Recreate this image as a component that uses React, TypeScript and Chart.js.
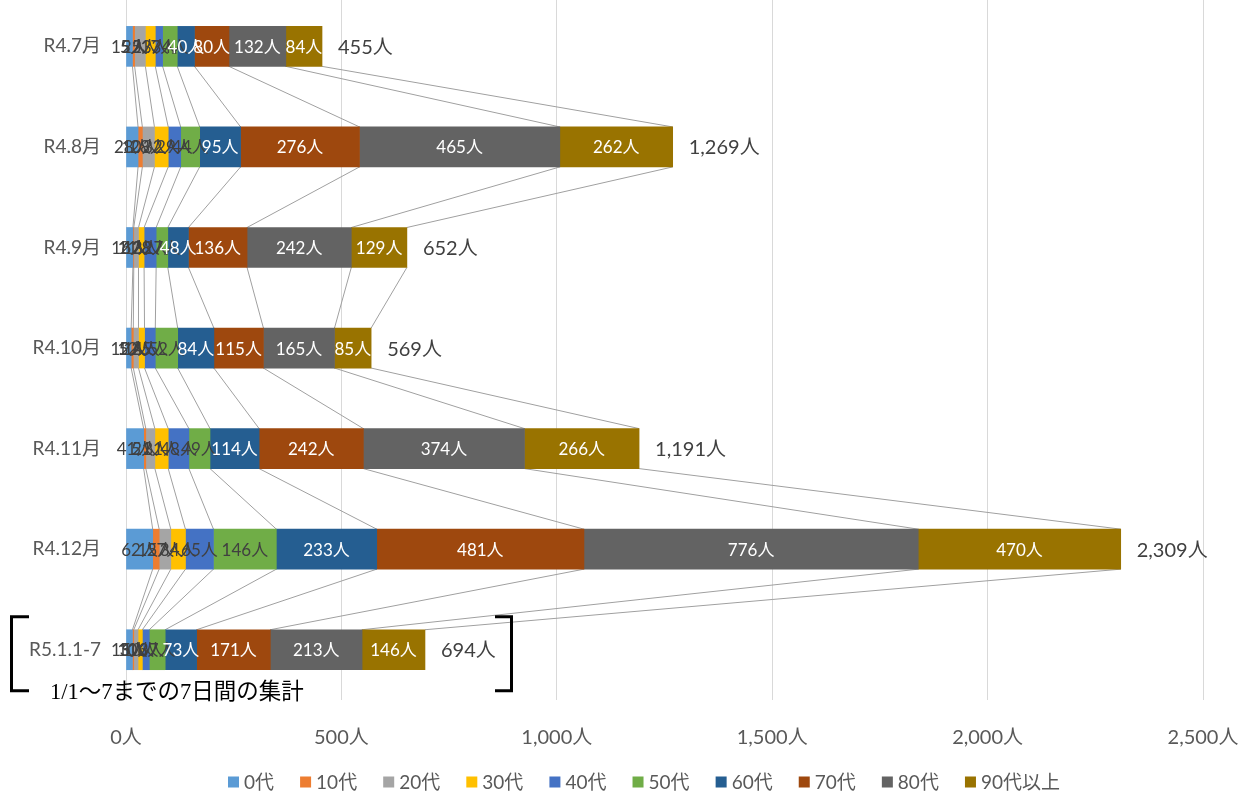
import React, { useEffect, useRef } from "react";
import { Chart, registerables } from "chart.js";

Chart.register(...registerables);

const categories = ["R4.7月", "R4.8月", "R4.9月", "R4.10月", "R4.11月", "R4.12月", "R5.1.1-7"];
const seriesNames = ["0代", "10代", "20代", "30代", "40代", "50代", "60代", "70代", "80代", "90代以上"];
const age0 = [15, 28, 16, 12, 41, 62, 15];
const age10 = [5, 10, 2, 5, 5, 15, 3];
const age20 = [25, 28, 11, 12, 21, 27, 10];
const age30 = [23, 32, 13, 14, 31, 34, 10];
const age40 = [17, 29, 28, 25, 48, 65, 16];
const age50 = [34, 44, 27, 52, 49, 146, 37];
const age60 = [40, 95, 48, 84, 114, 233, 73];
const age70 = [80, 276, 136, 115, 242, 481, 171];
const age80 = [132, 465, 242, 165, 374, 776, 213];
const age90 = [84, 262, 129, 85, 266, 470, 146];
const totals = [455, 1269, 652, 569, 1191, 2309, 694];
const xTicks = [0, 500, 1000, 1500, 2000, 2500];
const noteText = "1/1～7までの7日間の集計";

const seriesValues = [age0, age10, age20, age30, age40, age50, age60, age70, age80, age90];
const colors = ["#5B9BD5", "#ED7D31", "#A5A5A5", "#FFC000", "#4472C4", "#70AD47", "#255E91", "#9E480E", "#636363", "#997300"];
const labelColors = ["#404040", "#404040", "#404040", "#404040", "#404040", "#404040", "#FFFFFF", "#FFFFFF", "#FFFFFF", "#FFFFFF"];

const FONT = '"Lato", "Noto Sans CJK JP", sans-serif';
const fmt = (v: number) => v.toLocaleString("en-US") + "人";

const overlay = {
  id: "overlay",
  beforeDatasetsDraw(chart: any) {
    const ctx = chart.ctx;
    ctx.save();
    ctx.strokeStyle = "#A0A0A0";
    ctx.lineWidth = 1;
    chart.data.datasets.forEach((_: any, i: number) => {
      const meta = chart.getDatasetMeta(i);
      for (let j = 0; j < meta.data.length - 1; j++) {
        const a = meta.data[j];
        const b = meta.data[j + 1];
        ctx.beginPath();
        ctx.moveTo(a.x, a.y + a.height / 2);
        ctx.lineTo(b.x, b.y - b.height / 2);
        ctx.stroke();
      }
    });
    ctx.restore();
  },
  afterDatasetsDraw(chart: any) {
    const ctx = chart.ctx;
    ctx.save();
    ctx.textAlign = "center";
    ctx.textBaseline = "middle";
    ctx.font = `17px ${FONT}`;
    chart.data.datasets.forEach((ds: any, i: number) => {
      const meta = chart.getDatasetMeta(i);
      meta.data.forEach((el: any, j: number) => {
        ctx.fillStyle = labelColors[i];
        ctx.fillText(fmt(ds.data[j]), (el.x + el.base) / 2, el.y + 1);
      });
    });
    const last = chart.getDatasetMeta(chart.data.datasets.length - 1);
    ctx.textAlign = "left";
    ctx.fillStyle = "#404040";
    ctx.font = `20px ${FONT}`;
    last.data.forEach((el: any, j: number) => {
      ctx.fillText(fmt(totals[j]), el.x + 16, el.y + 1);
    });
    ctx.restore();
  },
  afterDraw(chart: any) {
    const ctx = chart.ctx;
    const yScale = chart.scales.y;
    const cy = yScale.getPixelForValue(categories.length - 1);
    ctx.save();
    ctx.strokeStyle = "#000000";
    ctx.lineWidth = 3;
    const top = cy - 33;
    const bot = cy + 41;
    ctx.beginPath();
    ctx.moveTo(29, top);
    ctx.lineTo(11.5, top);
    ctx.lineTo(11.5, bot);
    ctx.lineTo(29, bot);
    ctx.stroke();
    ctx.beginPath();
    ctx.moveTo(495, top);
    ctx.lineTo(511.5, top);
    ctx.lineTo(511.5, bot);
    ctx.lineTo(495, bot);
    ctx.stroke();
    ctx.fillStyle = "#000000";
    ctx.font = `22.5px "Liberation Serif", "Noto Sans CJK JP", serif`;
    ctx.textAlign = "left";
    ctx.textBaseline = "middle";
    ctx.fillText(noteText, 50, cy + 43);

    ctx.font = `19px ${FONT}`;
    const box = 11;
    const gap = 5;
    const widths = seriesNames.map((n) => box + gap + ctx.measureText(n).width);
    const sumW = widths.reduce((s, w) => s + w, 0);
    const left = 228;
    const right = 1060;
    const spacing = (right - left - sumW) / (widths.length - 1);
    let x = left;
    const ly = 786;
    seriesNames.forEach((n, i) => {
      ctx.fillStyle = colors[i];
      ctx.fillRect(x, ly - box / 2, box, box);
      ctx.fillStyle = "#595959";
      ctx.textAlign = "left";
      ctx.fillText(n, x + box + gap, ly + 1);
      x += widths[i] + spacing;
    });
    ctx.restore();
  },
};

export default function App() {
  const ref = useRef<HTMLCanvasElement | null>(null);
  useEffect(() => {
    if (!ref.current) return;
    const chart = new Chart(ref.current, {
      type: "bar",
      data: {
        labels: categories,
        datasets: seriesNames.map((name, i) => ({
          label: name,
          data: seriesValues[i],
          backgroundColor: colors[i],
          borderWidth: 0,
          barThickness: 40,
        })),
      },
      options: {
        indexAxis: "y",
        animation: false,
        responsive: false,
        devicePixelRatio: 1,
        layout: { padding: { left: 0, right: 43, top: 0, bottom: 36 } },
        plugins: { legend: { display: false }, tooltip: { enabled: false }, title: { display: false } },
        scales: {
          x: {
            stacked: true,
            min: 0,
            max: 2500,
            afterFit: (s: any) => {
              s.height = 60;
            },
            afterBuildTicks: (s: any) => {
              s.ticks = xTicks.map((v) => ({ value: v }));
            },
            grid: { color: "#D9D9D9", drawTicks: true, tickLength: 26, tickColor: "rgba(0,0,0,0)" },
            border: { display: false },
            ticks: {
              padding: 0,
              maxRotation: 0,
              color: "#595959",
              font: { size: 20, family: FONT },
              callback: (v: any) => fmt(Number(v)),
            },
          },
          y: {
            stacked: true,
            afterFit: (s: any) => {
              s.width = 126;
            },
            grid: { display: false, drawTicks: true, tickLength: 25 },
            border: { display: false },
            ticks: {
              padding: 0,
              color: "#595959",
              font: { size: 19, family: FONT, lineHeight: 0.01 },
            },
          },
        },
      },
      plugins: [overlay],
    });
    return () => chart.destroy();
  }, []);
  return (
    <div style={{ position: "fixed", left: 0, top: -4, width: 1246, height: 800 }}>
      <canvas ref={ref} width={1246} height={800} style={{ width: 1246, height: 800 }} />
    </div>
  );
}
